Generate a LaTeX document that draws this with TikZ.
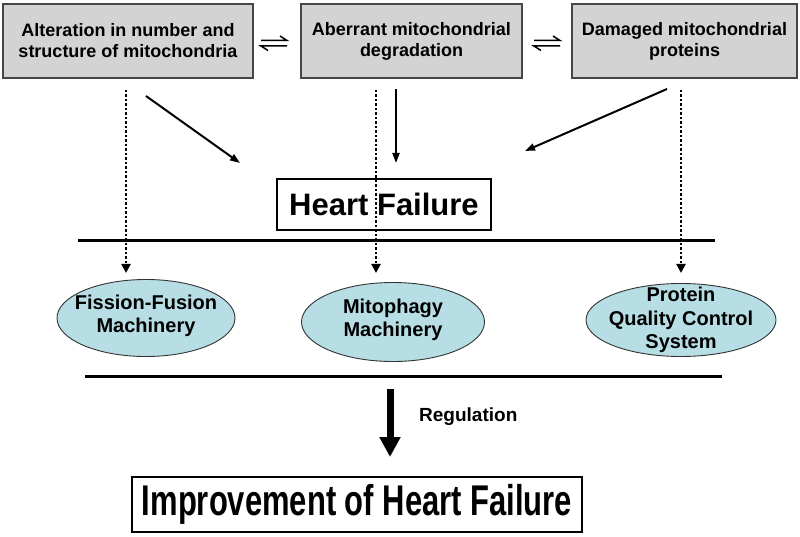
\documentclass[tikz,border=0pt]{standalone}
\usepackage{fontspec}
\setmainfont{Liberation Sans}
\usetikzlibrary{shapes.geometric,arrows.meta}
\definecolor{boxgray}{RGB}{211,211,211}
\definecolor{boxedge}{RGB}{70,70,70}
\definecolor{ellblue}{RGB}{183,222,228}
\tikzset{
  topbox/.style={draw=boxedge, line width=1.3pt, fill=boxgray, minimum height=74pt, inner sep=0pt,
    align=center, font=\bfseries\fontsize{18}{21}\selectfont},
  ell/.style={draw=black!80, line width=0.9pt, fill=ellblue, ellipse, inner sep=0pt},
  elltext/.style={align=center, font=\bfseries\fontsize{20}{23.5}\selectfont},
  dotarrow/.style={line width=2.8pt, line cap=butt, dash pattern=on 2.2pt off 2.3pt,
    -{Triangle[width=9pt,length=9pt]}},
  solidarrow/.style={line width=2pt, -{Triangle[width=7pt,length=10pt]}},
  sepline/.style={line width=3pt},
  hfbox/.style={draw, line width=2.8pt, inner sep=0pt},
  harp/.style={line width=1.5pt}
}
\begin{document}
\begin{tikzpicture}[x=1pt,y=-1pt]
\useasboundingbox (0,0) rectangle (800,537);

% top boxes
\node[topbox, minimum width=250pt] (a1) at (128,41) {Alteration in number and\\structure of mitochondria};
\node[topbox, minimum width=221pt] (a2) at (411.5,41) {Aberrant mitochondrial\\degradation};
\node[topbox, minimum width=225pt] (a3) at (684.5,41) {Damaged mitochondrial\\proteins};

% equilibrium harpoons
\foreach \cx in {274,547}{
  \draw[harp] (\cx-13,40.5) -- (\cx+13,40.5) -- (\cx+6,36);
  \draw[harp] (\cx+13,46) -- (\cx-13,46) -- (\cx-6,50.5);
}

% heart failure box
\node[hfbox, minimum width=214pt, minimum height=51pt, font=\bfseries\fontsize{31}{34}\selectfont] (hf) at (384,204.5) {Heart Failure};

% separator lines
\coordinate (l1a) at (78,241);
\coordinate (l1b) at (715,241);
\coordinate (l2a) at (85,376);
\coordinate (l2b) at (722,376);
\draw[sepline] (l1a) -- (l1b);
\draw[sepline] (l2a) -- (l2b);

% ellipses
\node[ell, minimum width=178pt, minimum height=77pt] (e1) at (146,318) {};
\node[elltext] at ([yshift=2pt]e1.center) {Fission-Fusion\\Machinery};
\node[ell, minimum width=183pt, minimum height=79pt] (e2) at (393,322) {};
\node[elltext] at ([yshift=2pt]e2.center) {Mitophagy\\Machinery};
\node[ell, minimum width=190pt, minimum height=73pt] (e3) at (681,320) {};
\node[elltext] at ([yshift=0pt]e3.center) {Protein\\Quality Control\\System};

% solid arrows to heart failure
\coordinate (s1) at (146,96);
\coordinate (t1) at (240,163);
\coordinate (s2) at (396,89);
\coordinate (t2) at (396,163);
\coordinate (s3) at (667,89);
\coordinate (t3) at (525,151);
\draw[solidarrow] (s1) -- (t1);
\draw[solidarrow] (s2) -- (t2);
\draw[solidarrow] (s3) -- (t3);

% dotted arrows to machineries
\coordinate (d1) at (126,90);
\coordinate (f1) at (126,273);
\coordinate (d2) at (376,90);
\coordinate (f2) at (376,273);
\coordinate (d3) at (681,90);
\coordinate (f3) at (681,273);
\draw[dotarrow] (d1) -- (f1);
\draw[dotarrow] (d2) -- (f2);
\draw[dotarrow] (d3) -- (f3);

% regulation arrow
\coordinate (r1) at (390,389);
\coordinate (r2) at (390,457);
\draw[line width=7pt, -{Triangle[width=20pt,length=20pt]}] (r1) -- (r2);
\node[anchor=base west, inner sep=0pt, font=\bfseries\fontsize{19}{22}\selectfont] (reg) at (419,421) {Regulation};

% improvement box
\node[hfbox, minimum width=450pt, minimum height=55pt] (imp) at (357,504.5)
  {\scalebox{0.72}[1]{\bfseries\fontsize{43}{46}\selectfont Improvement of Heart Failure}};
\end{tikzpicture}
\end{document}
